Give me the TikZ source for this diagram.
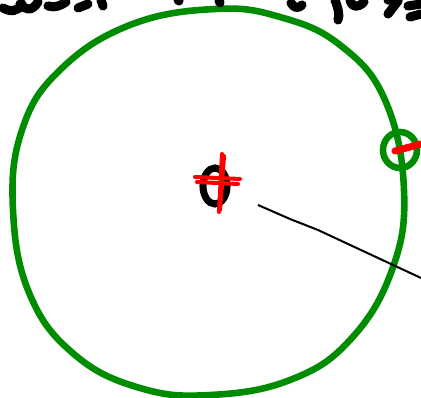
\documentclass[tikz,border=0pt]{standalone}
\usetikzlibrary{calc}
\colorlet{mygreen}{green!55!black}
\colorlet{myred}{red}
\tikzstyle{ring}=[draw=mygreen,line width=6.5pt*0.72,line join=round]
\tikzstyle{ink}=[draw=black,line width=9pt*0.72,line cap=round,line join=round]
\tikzstyle{crossmark}=[draw=myred,line width=4pt*0.72,line cap=round]
\begin{document}
\begin{tikzpicture}[x=0.025cm,y=-0.025cm]
  \def\W{421}   % picture width
  \def\H{398}   % picture height
  \useasboundingbox (0,0) rectangle (\W,\H);

  % big orbit
  \coordinate (sun) at (209,202);
  \draw[ring] plot[smooth cycle,tension=0.7] coordinates {
    (215,9) (280,17) (340,45) (385,100) (404,190) (392,270) (350,340)
    (290,380) (210,395) (140,388) (75,355) (30,295) (13,210)
    (22,130) (60,70) (130,25)};

  % small body on the orbit
  \coordinate (planet) at (400,150);
  \draw[ring] (planet) ellipse (17 and 18);
  \draw[myred,line width=7pt*0.72,line cap=round] (395,151) -- (421,144);

  % central body
  \draw[draw=black,line width=7pt*0.72] (215,186) ellipse (12 and 18);
  \draw[crossmark] (222,154) -- (219,212);
  \draw[crossmark] (224,156) -- (220,210);
  \draw[crossmark] (195,177) -- (240,179);
  \draw[crossmark] (197,182) -- (238,184);

  % radius line
  \coordinate (rstart) at (258,205);
  \coordinate (rend) at (421,278);
  \draw[black,line width=2pt*0.72] (rstart) -- (290,219) -- (318,230) -- (rend);

  % clipped handwriting at the top
  \draw[ink] (3,8) .. controls (10,12) and (18,12) .. (22,4);
  \draw[ink] (20,4) .. controls (25,10) and (32,12) .. (38,2);
  \draw[ink] (48,6) .. controls (55,8) and (60,6) .. (66,2);
  \draw[ink] (78,8) -- (88,4);
  \draw[ink] (101,0) -- (103,6);
  \draw[ink] (178,0) -- (179,1);
  \draw[ink] (219,0) -- (220,3);
  \draw[ink] (291,3) .. controls (294,8) and (298,9) .. (302,5);
  \draw[ink] (335,0) .. controls (338,8) and (340,15) .. (338,20);
  \draw[ink] (350,0) .. controls (352,8) and (358,8) .. (364,2);
  \draw[ink] (388,0) -- (398,1);
  \draw[ink] (398,1) -- (388,14);
  \draw[ink] (408,6) -- (421,4);
  \draw[ink] (410,17) -- (421,14);
\end{tikzpicture}
\end{document}
